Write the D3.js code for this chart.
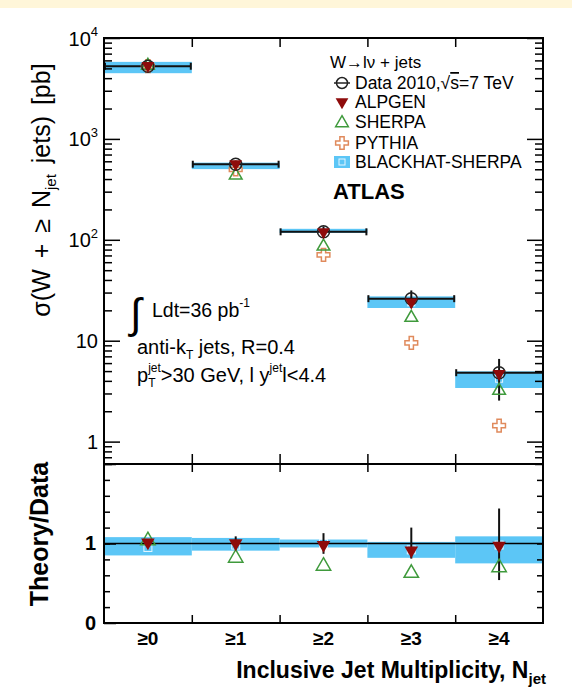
<!DOCTYPE html>
<html><head><meta charset="utf-8">
<script src="https://cdn.jsdelivr.net/npm/d3@7"></script>
<style>
html,body{margin:0;padding:0;background:#fff;}
svg{display:block;font-family:"Liberation Sans",Arial,Helvetica,sans-serif;}
svg text{white-space:pre;}
</style></head>
<body><svg id="c" width="572" height="700"></svg>
<script>
// ---------- data ----------
const categories = ["≥0","≥1","≥2","≥3","≥4"];
const dataXsec   = [5250, 561, 120, 26.1, 4.82];
const dataErrLo  = [5100, 515, 105, 21.2, 2.55];
const dataErrHi  = [5400, 610, 136, 31.5, 6.6];
const alpgenXsec = [5200, 552, 117, 23.5, 4.6];
const sherpaXsec = [5450, 445, 88, 17.3, 3.27];
const pythiaXsec = [5250, 500, 71, 9.5, 1.44];
const blackhatXsec = [5100, 545, 122, 24, 4.2];
const blackhatLo = [4480, 502, 117, 21.1, 3.4];
const blackhatHi = [5800, 582, 128.5, 27.5, 4.97];

const alpgenRatio   = [1.0, 0.99, 0.97, 0.9, 0.96];
const sherpaRatio   = [1.05, 0.83, 0.73, 0.64, 0.71];
const blackhatRatio   = [0.95, 0.98, 1.0, 0.92, 0.98];
const blackhatRatioLo = [0.85, 0.91, 0.95, 0.82, 0.75];
const blackhatRatioHi = [1.08, 1.07, 1.05, 1.02, 1.09];
const dataRatioLo = [0.97, 0.92, 0.87, 0.81, 0.54];
const dataRatioHi = [1.03, 1.09, 1.13, 1.2, 1.44];

const yMajorTicks = [1, 10, 100, 1000, 10000];
const yMajorLabels = [["1",""],["10",""],["10","2"],["10","3"],["10","4"]];
const ratioTicks = [0, 1, 2];
const ratioTickLabels = ["0", "1", ""];

// ---------- colours ----------
const C_BAND = "#5cc6f6", C_ALP = "#8e0b0b", C_SHE = "#3f9a3c", C_PYT = "#e08a5c";

// ---------- layout ----------
const svg = d3.select("#c");
const L = 104, R = 543, T = 38, MID = 464, B = 623;
svg.append("rect").attr("x",0).attr("y",0).attr("width",572).attr("height",8).attr("fill","#fff6d9");

const x = d3.scaleBand().domain(categories).range([L, R]).padding(0);
const xEdge = d3.scaleLinear().domain([0, categories.length]).range([L, R]);
const y = d3.scaleLog().domain([0.6, 1e4]).range([MID, T]);
const yr = d3.scaleLinear().domain([0, 2]).range([B, MID]);
const cx = c => x(c) + x.bandwidth()/2;

// helper: rich text laid out piecewise
function rich(g, x0, y0, parts, base) {
  let cur = x0, pend = 0;
  parts.forEach(p => {
    const t = g.append("text").attr("x", cur).attr("y", y0 + (p.dy||0))
      .attr("font-size", p.size || base.size)
      .attr("font-weight", p.weight || base.weight || "normal")
      .attr("font-style", p.style || "normal")
      .attr("fill", "#000").text(p.t);
    if (base.ws) t.attr("word-spacing", base.ws);
    if (p.ol) t.attr("text-decoration", "overline");
    const w = t.node().getComputedTextLength();
    if (p.stack) { pend = w; }
    else { cur += Math.max(w, pend); pend = 0; }
  });
  return cur - x0;
}

// ---------- top panel ----------
const topG = svg.append("g");
const idx = d3.range(categories.length);
topG.selectAll("rect.band").data(idx).join("rect")
  .attr("x", i => x(categories[i])).attr("width", x.bandwidth())
  .attr("y", i => y(blackhatHi[i])).attr("height", i => y(blackhatLo[i]) - y(blackhatHi[i]))
  .attr("fill", C_BAND);
topG.selectAll("rect.bhm").data(idx).join("rect")
  .attr("x", i => cx(categories[i]) - 3.5).attr("y", i => y(blackhatXsec[i]) - 3.5)
  .attr("width", 7).attr("height", 7).attr("fill", "none").attr("stroke", "#e6f6ff").attr("stroke-width", 1);
topG.selectAll("line.dh").data(idx).join("line")
  .attr("x1", i => x(categories[i]) + 1).attr("x2", i => x(categories[i]) + x.bandwidth() - 1)
  .attr("y1", i => y(dataXsec[i])).attr("y2", i => y(dataXsec[i]))
  .attr("stroke", "#111").attr("stroke-width", 2);
idx.forEach(i => {
  [x(categories[i]) + 1, x(categories[i]) + x.bandwidth() - 1].forEach(xx => {
    if (xx > R - 2) return;
    topG.append("line").attr("x1", xx).attr("x2", xx)
      .attr("y1", y(dataXsec[i]) - 3.5).attr("y2", y(dataXsec[i]) + 3.5)
      .attr("stroke", "#111").attr("stroke-width", 2);
  });
});
topG.selectAll("line.dv").data(idx).join("line")
  .attr("x1", i => cx(categories[i])).attr("x2", i => cx(categories[i]))
  .attr("y1", i => y(dataErrHi[i])).attr("y2", i => y(dataErrLo[i]))
  .attr("stroke", "#111").attr("stroke-width", 2);

const triUp = d3.symbol().type(d3.symbolTriangle).size(70);
const crossSym = d3.symbol().type(d3.symbolCross).size(90);
topG.selectAll("path.py").data(idx).join("path")
  .attr("d", crossSym).attr("transform", i => `translate(${cx(categories[i])},${y(pythiaXsec[i])})`)
  .attr("fill", "#fff").attr("stroke", C_PYT).attr("stroke-width", 1.5);
topG.selectAll("path.sh").data(idx).join("path")
  .attr("d", triUp).attr("transform", i => `translate(${cx(categories[i])},${y(sherpaXsec[i]) + 1})`)
  .attr("fill", "none").attr("stroke", C_SHE).attr("stroke-width", 1.5);
topG.selectAll("circle.dc").data(idx).join("circle")
  .attr("cx", i => cx(categories[i])).attr("cy", i => y(dataXsec[i])).attr("r", 6)
  .attr("fill", "none").attr("stroke", "#222").attr("stroke-width", 1.5);
topG.selectAll("path.al").data(idx).join("path")
  .attr("d", triUp).attr("transform", i => `translate(${cx(categories[i])},${y(alpgenXsec[i]) - 1}) rotate(180)`)
  .attr("fill", C_ALP);

function styleAxis(g) { g.select(".domain").remove(); g.selectAll(".tick line").attr("stroke", "#000").attr("stroke-width", 1.5); }
const minorLog = [];
[0.1, 1, 10, 100, 1000].forEach(d => { for (let k = 2; k <= 9; k++) { const v = d*k; if (v >= 0.6 && v < 1e4) minorLog.push(v); } });
svg.append("g").attr("transform", `translate(${L},0)`)
  .call(d3.axisLeft(y).tickValues(minorLog).tickSize(-8).tickFormat("")).call(styleAxis);
svg.append("g").attr("transform", `translate(${R},0)`)
  .call(d3.axisRight(y).tickValues(minorLog).tickSize(-8).tickFormat("")).call(styleAxis);
svg.append("g").attr("transform", `translate(${R},0)`)
  .call(d3.axisRight(y).tickValues(yMajorTicks).tickSize(-16).tickFormat("")).call(styleAxis);
const yl = svg.append("g").attr("transform", `translate(${L},0)`)
  .call(d3.axisLeft(y).tickValues(yMajorTicks).tickSize(-16).tickPadding(6).tickFormat(""))
  .call(styleAxis);
yl.selectAll(".tick").each(function(d, i) {
  const t = d3.select(this).select("text").attr("font-size", 20).attr("fill", "#000")
    .attr("font-family", "Liberation Sans, Arial, sans-serif").attr("dy", "0.35em");
  const lab = yMajorLabels[i];
  t.text(null);
  t.append("tspan").text(lab[0]);
  if (lab[1]) t.append("tspan").attr("font-size", 13).attr("dy", "-0.75em").text(lab[1]);
});
svg.append("g").attr("transform", `translate(0,${T})`)
  .call(d3.axisTop(xEdge).tickValues([1,2,3,4]).tickSize(-9).tickFormat("")).call(styleAxis);
svg.append("g").attr("transform", `translate(0,${MID})`)
  .call(d3.axisBottom(xEdge).tickValues([1,2,3,4]).tickSize(-10).tickFormat("")).call(styleAxis);

// ---------- ratio panel ----------
const bot = svg.append("g");
bot.selectAll("rect.rb").data(idx).join("rect")
  .attr("x", i => x(categories[i])).attr("width", x.bandwidth())
  .attr("y", i => yr(blackhatRatioHi[i])).attr("height", i => yr(blackhatRatioLo[i]) - yr(blackhatRatioHi[i]))
  .attr("fill", C_BAND);
bot.selectAll("rect.rbm").data(idx).join("rect")
  .attr("x", i => cx(categories[i]) - 4).attr("y", i => yr(blackhatRatio[i]) - 4)
  .attr("width", 8).attr("height", 8).attr("fill", "none").attr("stroke", "#e6f6ff").attr("stroke-width", 1);
bot.append("line").attr("x1", L).attr("x2", R).attr("y1", yr(1)).attr("y2", yr(1))
  .attr("stroke", "#000").attr("stroke-width", 1.5);
bot.selectAll("line.rv").data(idx).join("line")
  .attr("x1", i => cx(categories[i])).attr("x2", i => cx(categories[i]))
  .attr("y1", i => yr(dataRatioHi[i])).attr("y2", i => yr(dataRatioLo[i]))
  .attr("stroke", "#111").attr("stroke-width", 2);
bot.selectAll("path.rs").data(idx).join("path")
  .attr("d", d3.symbol().type(d3.symbolTriangle).size(90))
  .attr("transform", i => `translate(${cx(categories[i])},${yr(sherpaRatio[i]) + 1})`)
  .attr("fill", "none").attr("stroke", C_SHE).attr("stroke-width", 1.5);
bot.selectAll("path.ra").data(idx).join("path")
  .attr("d", d3.symbol().type(d3.symbolTriangle).size(80))
  .attr("transform", i => `translate(${cx(categories[i])},${yr(alpgenRatio[i]) - 1}) rotate(180)`)
  .attr("fill", C_ALP);

svg.append("g").attr("transform", `translate(0,${MID})`)
  .call(d3.axisTop(xEdge).tickValues([1,2,3,4]).tickSize(-8).tickFormat("")).call(styleAxis);
svg.append("g").attr("transform", `translate(0,${B})`)
  .call(d3.axisBottom(xEdge).tickValues([1,2,3,4]).tickSize(-8).tickFormat("")).call(styleAxis);
const xl = svg.append("g").attr("transform", `translate(0,${B})`)
  .call(d3.axisBottom(x).tickSize(0).tickPadding(9));
xl.select(".domain").remove();
xl.selectAll("text").attr("font-size", 19).attr("font-weight", "bold").attr("fill", "#000")
  .attr("font-family", "Liberation Sans, Arial, sans-serif");
const rMinor = d3.range(0.2, 2, 0.2);
svg.append("g").attr("transform", `translate(${L},0)`)
  .call(d3.axisLeft(yr).tickValues(rMinor).tickSize(-6).tickFormat("")).call(styleAxis);
svg.append("g").attr("transform", `translate(${R},0)`)
  .call(d3.axisRight(yr).tickValues(rMinor).tickSize(-6).tickFormat("")).call(styleAxis);
const rl = svg.append("g").attr("transform", `translate(${L},0)`)
  .call(d3.axisLeft(yr).tickValues(ratioTicks).tickSize(-12).tickPadding(8).tickFormat((d, i) => ratioTickLabels[i]))
  .call(styleAxis);
rl.selectAll("text").attr("font-size", 20).attr("font-weight", "bold").attr("fill", "#000")
  .attr("font-family", "Liberation Sans, Arial, sans-serif");

[[T, MID], [MID, B]].forEach(([a, b]) => {
  svg.append("rect").attr("x", L).attr("y", a).attr("width", R - L).attr("height", b - a)
    .attr("fill", "none").attr("stroke", "#000").attr("stroke-width", 2);
});

// ---------- axis titles ----------
const yt = svg.append("g");
const ytw = rich(yt, 0, 0, [
  {t: "σ(W + ≥ N"}, {t: "jet", size: 15, dy: 6}, {t: " jets) [pb]"}
], {size: 25, ws: 4});
yt.attr("transform", `translate(50,${190 + ytw/2}) rotate(-90)`);

const tt = svg.append("g");
const ttw = rich(tt, 0, 0, [{t: "Theory/Data"}], {size: 25, weight: "bold"});
tt.attr("transform", `translate(48,${534 + ttw/2}) rotate(-90)`);

const xt = svg.append("g");
const xtw = rich(xt, 0, 0, [
  {t: "Inclusive Jet Multiplicity, N"}, {t: "jet", size: 15, dy: 6}
], {size: 23, weight: "bold"});
xt.attr("transform", `translate(${546 - xtw},678)`);

// ---------- legend ----------
const lg = svg.append("g");
const lx = 342, lt = 355;
rich(lg, 330, 68, [{t: "W→lν + jets"}], {size: 17});
rich(lg, lt, 89, [{t: "Data 2010,√"}, {t: "s", ol: true}, {t: "=7 TeV"}], {size: 17.5});
rich(lg, lt, 108, [{t: "ALPGEN"}], {size: 17.5});
rich(lg, lt, 128, [{t: "SHERPA"}], {size: 17.5});
rich(lg, lt, 149, [{t: "PYTHIA"}], {size: 17.5});
rich(lg, lt, 168, [{t: "BLACKHAT-SHERPA"}], {size: 17.5});
rich(lg, 333, 199, [{t: "ATLAS"}], {size: 22, weight: "bold", style: "italic"});
lg.append("circle").attr("cx", lx).attr("cy", 83).attr("r", 5.5).attr("fill", "none").attr("stroke", "#222").attr("stroke-width", 1.5);
lg.append("line").attr("x1", lx - 8).attr("x2", lx + 8).attr("y1", 83).attr("y2", 83).attr("stroke", "#222").attr("stroke-width", 1.5);
lg.append("path").attr("d", triUp).attr("transform", `translate(${lx},102) rotate(180)`).attr("fill", C_ALP);
lg.append("path").attr("d", triUp).attr("transform", `translate(${lx},123)`).attr("fill", "none").attr("stroke", C_SHE).attr("stroke-width", 1.5);
lg.append("path").attr("d", crossSym).attr("transform", `translate(${lx},143)`).attr("fill", "#fff").attr("stroke", C_PYT).attr("stroke-width", 1.5);
lg.append("rect").attr("x", lx - 8).attr("y", 156).attr("width", 16).attr("height", 12).attr("fill", C_BAND);
lg.append("rect").attr("x", lx - 3).attr("y", 159).attr("width", 6).attr("height", 6).attr("fill", "none").attr("stroke", "#e6f6ff").attr("stroke-width", 1);

// ---------- annotation ----------
const an = svg.append("g");
rich(an, 130, 328, [{t: "∫", size: 42}], {size: 20});
rich(an, 152, 317, [{t: "Ldt=36 pb"}, {t: "-1", size: 12, dy: -10}], {size: 19.5});
rich(an, 137, 354, [{t: "anti-k"}, {t: "T", size: 12, dy: 5}, {t: " jets, R=0.4"}], {size: 20});
rich(an, 137, 382, [{t: "p"}, {t: "jet", size: 12, dy: -10, stack: true}, {t: "T", size: 12, dy: 5},
  {t: ">30 GeV, l y"}, {t: "jet", size: 12, dy: -10}, {t: "l<4.4"}], {size: 20});
</script></body></html>
